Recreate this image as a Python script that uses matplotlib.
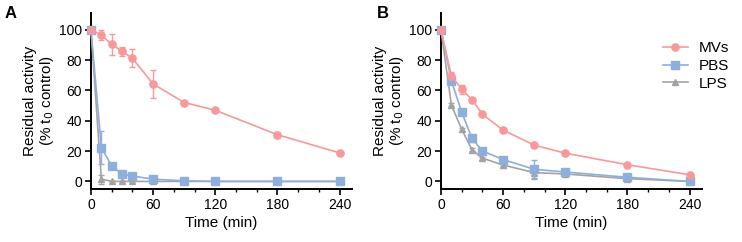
import matplotlib
matplotlib.use("Agg")
import matplotlib.pyplot as plt
from matplotlib.lines import Line2D
from matplotlib.ticker import MultipleLocator

plt.rcParams['font.family'] = ['Liberation Sans', 'DejaVu Sans']

time = [0, 10, 20, 30, 40, 60, 90, 120, 180, 240]

# Panel A
a_mvs = [100, 96.5, 90.3, 85.8, 81.2, 64.2, 52, 46.9, 30.8, 18.8]
a_mvs_err = [0, 3, 7, 3, 6, 9, 1, 1, 2, 0.5]
a_pbs = [100, 22.3, 10.2, 4.9, 3.5, 1.5, 0.4, 0, 0, 0]
a_pbs_err = [0, 11, 1, 0.5, 0.5, 0.5, 0, 0, 0, 0]
a_lps = [100, 1.5, 0, 0, 0, 0, 0, 0, 0, 0]
a_lps_err = [0, 3, 0, 0, 0, 0, 0, 0, 0, 0]

# Panel B
b_mvs = [100, 69.7, 60.8, 53.8, 44.2, 33.8, 23.9, 18.6, 11, 4.4]
b_mvs_err = [0, 2.5, 3, 1, 0.5, 0.5, 0.5, 0.5, 0.5, 0.5]
b_pbs = [100, 66.4, 45.6, 28.3, 20.1, 14.4, 8, 6.2, 2.7, 0]
b_pbs_err = [0, 1, 1, 2, 1, 1, 6, 1, 1, 0]
b_lps = [100, 50.4, 34.3, 20.8, 15.3, 10.8, 5.8, 4.9, 1.8, 0]
b_lps_err = [0, 1, 1, 1, 1, 1, 4, 1, 0.5, 0]

labels = ['MVs', 'PBS', 'LPS']
colors = ['#F7999B', '#8EAEDB', '#A3A3A3']
markers = ['o', 's', '^']
msizes = [5.2, 5.2, 4.6]

fig = plt.figure(figsize=(7.42, 2.42), dpi=100)
ax_a = fig.add_axes([91 / 742, 53 / 242, 261 / 742, 176 / 242])
ax_b = fig.add_axes([441 / 742, 53 / 242, 261 / 742, 176 / 242])

panels = [
    (ax_a, [(a_mvs, a_mvs_err), (a_pbs, a_pbs_err), (a_lps, a_lps_err)]),
    (ax_b, [(b_mvs, b_mvs_err), (b_pbs, b_pbs_err), (b_lps, b_lps_err)]),
]

for ax, series in panels:
    # draw LPS first so PBS and MVs sit on top
    for i in [2, 1, 0]:
        vals, err = series[i]
        ax.errorbar(time, vals, yerr=err, color=colors[i], marker=markers[i],
                    markersize=msizes[i], linewidth=1.2, elinewidth=1.0,
                    capsize=2.2, capthick=1.0, clip_on=False, zorder=3 + (2 - i))
    ax.set_xlim(0, 252)
    ax.set_ylim(-5, 111)
    ax.set_xticks([0, 60, 120, 180, 240])
    ax.xaxis.set_minor_locator(MultipleLocator(20))
    ax.set_yticks([0, 20, 40, 60, 80, 100])
    for side in ['top', 'right']:
        ax.spines[side].set_visible(False)
    for side in ['left', 'bottom']:
        ax.spines[side].set_linewidth(1.4)
    ax.tick_params(axis='both', which='major', direction='out', length=4, width=1.2,
                   labelsize=10, pad=2.5)
    ax.tick_params(axis='x', which='minor', direction='out', length=2.5, width=1.0)
    ax.set_xlabel('Time (min)', fontsize=11, labelpad=2.5)
    ax.set_ylabel('Residual activity\n(% t$_0$ control)', fontsize=11, labelpad=2,
                  linespacing=1.05)

handles = [Line2D([], [], color=colors[i], marker=markers[i], markersize=msizes[i],
                  linewidth=1.2) for i in range(3)]
ax_b.legend(handles, labels, loc='upper left', bbox_to_anchor=(657 / 742, 1 - 35 / 242),
            bbox_transform=fig.transFigure, frameon=False, fontsize=11,
            handlelength=1.6, handletextpad=0.7, labelspacing=0.25, borderaxespad=0)

fig.text(5 / 742, 1 - 14 / 242, 'A', fontsize=12, fontweight='bold', va='center')
fig.text(377 / 742, 1 - 14 / 242, 'B', fontsize=12, fontweight='bold', va='center')

fig.savefig('out.png', dpi=100)
